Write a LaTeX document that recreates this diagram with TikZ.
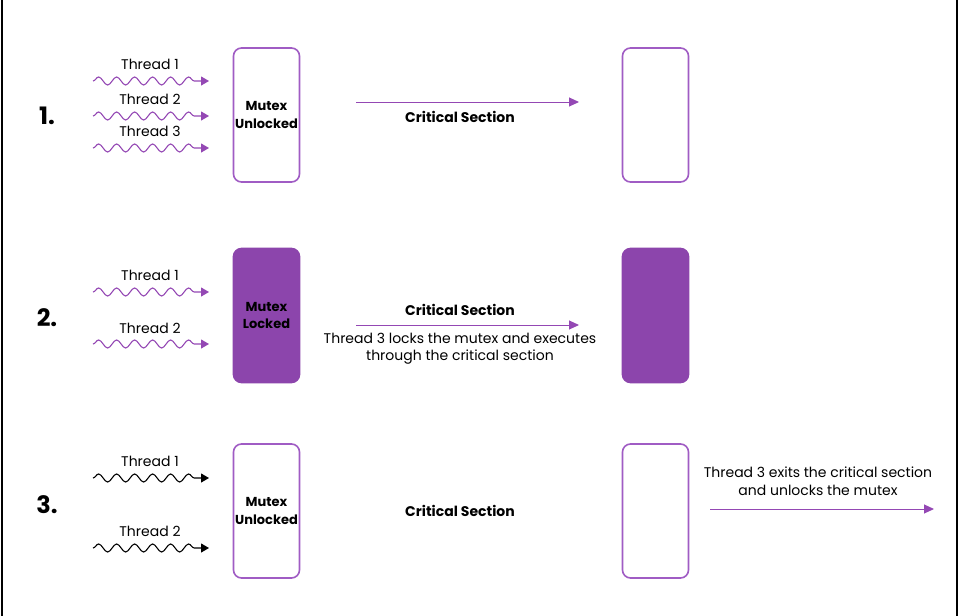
\documentclass[tikz,border=0pt]{standalone}
\usepackage{fontspec}
\setmainfont{Poppins}
\usetikzlibrary{arrows.meta,decorations.pathmorphing}
\definecolor{pline}{HTML}{A05CC4}
\definecolor{pfill}{HTML}{8C45AC}
\definecolor{parrow}{HTML}{9448B4}
\tikzset{
  x=1pt, y=-1pt,
  mutexbox/.style={draw=pline, line width=1.6pt, rounded corners=8pt, minimum width=66pt, minimum height=134pt, inner sep=0pt, font=\fontsize{13}{17.5}\selectfont\bfseries, align=center},
  lockedbox/.style={mutexbox, draw=pfill, fill=pfill},
  thread/.style={decorate, line width=1.1pt, decoration={snake, amplitude=4pt, segment length=18pt, post length=9pt}, -{Triangle[length=8pt,width=9pt]}},
  tlabel/.style={font=\fontsize{14}{16}\selectfont, inner sep=0pt},
  crit/.style={font=\fontsize{14}{16}\selectfont\bfseries, inner sep=0pt},
  note/.style={font=\fontsize{14}{17.5}\selectfont, align=center, inner sep=0pt},
  stepnum/.style={font=\fontsize{24}{26}\selectfont\bfseries, inner sep=0pt},
  flow/.style={draw=parrow, line width=1pt, -{Triangle[length=10pt,width=9pt]}}
}
\begin{document}
\begin{tikzpicture}
\useasboundingbox (0,0) rectangle (959,616);
\fill[white] (0,0) rectangle (959,616);
\draw[line width=2pt] (1.5,0) -- (1.5,616);
\draw[line width=2pt] (957,0) -- (957,616);

% Row 1
\node[stepnum] (n1) at (47,116) {1.};
\node[tlabel] (r1t1) at (150,64) {Thread 1};
\node[tlabel] (r1t2) at (150,99) {Thread 2};
\node[tlabel] (r1t3) at (150,131) {Thread 3};
\coordinate (r1a1) at (93,81);  \coordinate (r1b1) at (209,81);
\coordinate (r1a2) at (93,116); \coordinate (r1b2) at (209,116);
\coordinate (r1a3) at (93,148); \coordinate (r1b3) at (209,148);
\draw[thread, draw=parrow] (r1a1) -- (r1b1);
\draw[thread, draw=parrow] (r1a2) -- (r1b2);
\draw[thread, draw=parrow] (r1a3) -- (r1b3);
\node[mutexbox] (m1) at (266.5,115) {Mutex\\Unlocked};
\node[mutexbox] (e1) at (655.5,115) {};
\coordinate (f1a) at (356,102); \coordinate (f1b) at (579,102);
\draw[flow] (f1a) -- (f1b);
\node[crit] (c1) at (460,117) {Critical Section};

% Row 2
\node[stepnum] (n2) at (47,318) {2.};
\node[tlabel] (r2t1) at (150,275) {Thread 1};
\node[tlabel] (r2t2) at (150,328) {Thread 2};
\coordinate (r2a1) at (93,292); \coordinate (r2b1) at (209,292);
\coordinate (r2a2) at (93,344); \coordinate (r2b2) at (209,344);
\draw[thread, draw=parrow] (r2a1) -- (r2b1);
\draw[thread, draw=parrow] (r2a2) -- (r2b2);
\node[lockedbox] (m2) at (266.5,315.5) {Mutex\\Locked};
\node[lockedbox] (e2) at (655.5,315.5) {};
\node[crit] (c2) at (460,310) {Critical Section};
\coordinate (f2a) at (356,325); \coordinate (f2b) at (579,325);
\draw[flow] (f2a) -- (f2b);
\node[note] (d2) at (460,348.5) {Thread 3 locks the mutex and executes\\through the critical section};

% Row 3
\node[stepnum] (n3) at (47,505) {3.};
\node[tlabel] (r3t1) at (150,461) {Thread 1};
\node[tlabel] (r3t2) at (150,531) {Thread 2};
\coordinate (r3a1) at (93,478); \coordinate (r3b1) at (209,478);
\coordinate (r3a2) at (93,548); \coordinate (r3b2) at (209,548);
\draw[thread, draw=black] (r3a1) -- (r3b1);
\draw[thread, draw=black] (r3a2) -- (r3b2);
\node[mutexbox] (m3) at (266.5,511) {Mutex\\Unlocked};
\node[mutexbox] (e3) at (655.5,511) {};
\node[crit] (c3) at (460,511) {Critical Section};
\node[note] (d3) at (818,481) {Thread 3 exits the critical section\\and unlocks the mutex};
\coordinate (f3a) at (710,509); \coordinate (f3b) at (934,509);
\draw[flow] (f3a) -- (f3b);
\end{tikzpicture}
\end{document}
